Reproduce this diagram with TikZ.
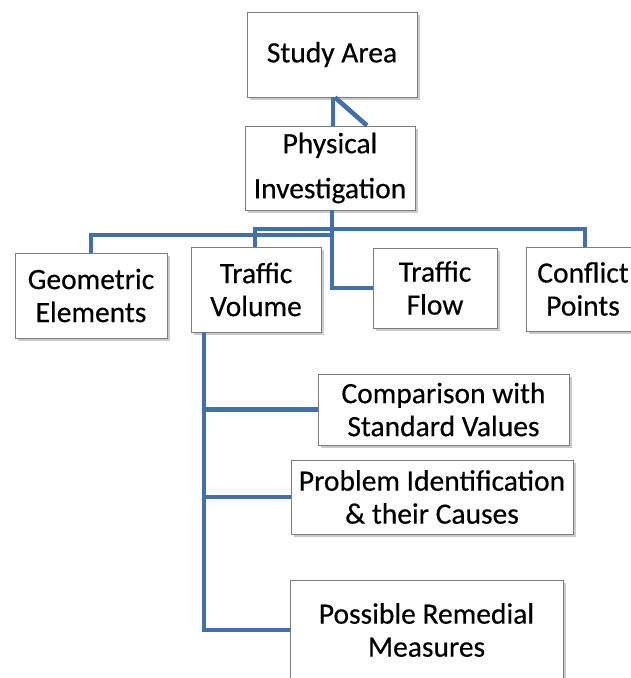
\documentclass[tikz,border=0pt]{standalone}
\usepackage{fontspec}
\setmainfont{Carlito}[FakeBold=0.4]
\usetikzlibrary{shadows,calc}
\definecolor{linkblue}{RGB}{68,112,166}
\definecolor{boxgray}{RGB}{125,125,125}
\tikzset{
  box/.style={draw=boxgray, line width=0.9pt, fill=white, rectangle, align=center,
    inner sep=0pt, font=\fontsize{29.5}{33}\selectfont,
    drop shadow={shadow xshift=2.5pt, shadow yshift=-2.5pt, opacity=0.35, fill=black!60}},
  link/.style={draw=linkblue, line width=4.6pt, line join=miter, line cap=butt}
}
\begin{document}
\begin{tikzpicture}[x=1pt,y=-1pt]
\useasboundingbox (0,0) rectangle (631,678);
% nodes
\node[box, minimum width=170pt, minimum height=85pt] (study) at (332,54.5) {Study Area};
\node[box, minimum width=170pt, minimum height=84pt, font=\fontsize{29.5}{45}\selectfont] (phys) at (330,168) {Physical\\Investigation};
\node[box, minimum width=152pt, minimum height=85pt] (geo) at (91,295.5) {Geometric\\Elements};
\node[box, minimum width=130pt, minimum height=85pt] (tvol) at (256,289.5) {Traffic\\Volume};
\node[box, minimum width=124pt, minimum height=80pt] (tflow) at (435,288) {Traffic\\Flow};
\node[box, minimum width=114pt, minimum height=84pt] (conf) at (583,289) {Conflict\\Points};
\node[box, minimum width=251pt, minimum height=71pt] (comp) at (443.5,409.5) {Comparison with\\Standard Values};
\node[box, minimum width=282pt, minimum height=74pt] (prob) at (432,497) {Problem Identification\\\& their Causes};
\node[box, minimum width=273pt, minimum height=100pt] (poss) at (426.5,630) {Possible Remedial\\Measures};
% study -> physical
\coordinate (sa) at ($(study.south)+(1,0)$);
\coordinate (sb) at ($(study.south)+(3,0)$);
\coordinate (pe) at ($(phys.north)+(37,0)$);
\draw[link] (sa) -- (sa |- phys.north);
\draw[link] (sb) -- (pe);
% physical -> children
\coordinate (top) at ($(phys.south)+(2,0)$);
\coordinate (upper) at (255,229);
\coordinate (lower) at (91,235);
\coordinate (cx) at (585,0);
\draw[link] (top) |- (tflow.west);
\draw[link] (tvol.north -| upper) -- (upper) -| (conf.north -| cx);
\draw[link] (geo.north) |- (top |- lower);
% traffic volume -> sub items
\coordinate (trunk) at (204,0);
\draw[link] (tvol.south -| trunk) |- (poss.west);
\draw[link] (comp.west -| trunk) -- (comp.west);
\draw[link] (prob.west -| trunk) -- (prob.west);
\end{tikzpicture}
\end{document}
